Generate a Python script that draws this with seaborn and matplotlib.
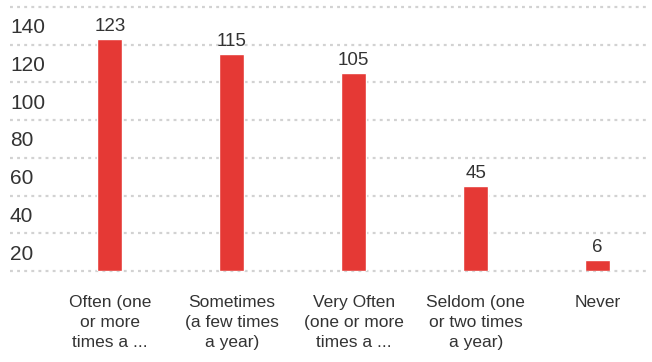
import numpy as np
import pandas as pd
import matplotlib
matplotlib.use("Agg")
import matplotlib.pyplot as plt
import seaborn as sns

categories = ["Often (one\nor more\ntimes a ...",
              "Sometimes\n(a few times\na year)",
              "Very Often\n(one or more\ntimes a ...",
              "Seldom (one\nor two times\na year)",
              "Never"]
values = [123, 115, 105, 45, 6]
ytick_values = [20, 40, 60, 80, 100, 120, 140]

sns.set_style("white")
plt.rcParams['font.family'] = ['Liberation Sans', 'DejaVu Sans']

text_color = "#333333"
bar_color = "#E53935"

fig = plt.figure(figsize=(6.52, 3.62), dpi=100)
ax = fig.add_axes([10 / 652, 91 / 362, 640 / 652, 264 / 362])

df = pd.DataFrame({"cat": categories, "val": values})
sns.barplot(data=df, x="cat", y="val", color=bar_color, width=0.205,
            saturation=1, ax=ax, zorder=3)

ax.set_xlim(-0.82, 4.43)
ax.set_ylim(0, 140)

# dotted gridlines at 0..140, labels sit halfway below each line
for v in [0] + ytick_values:
    ax.axhline(v, color="#d2d2d2", lw=1.6, linestyle=(0, (1.3, 1.9)),
               zorder=1, clip_on=False)
ax.set_yticks([v - 10 for v in ytick_values])
ax.set_yticklabels([str(v) for v in ytick_values])
ax.tick_params(axis="y", length=0, pad=0, labelsize=15, labelcolor=text_color)
for lab in ax.get_yticklabels():
    lab.set_horizontalalignment("left")

ax.tick_params(axis="x", length=0, pad=17, labelsize=12.5, labelcolor=text_color)
for lab in ax.get_xticklabels():
    lab.set_multialignment("center")
    lab.set_linespacing(1.45)

for i, v in enumerate(values):
    ax.annotate(str(v), (i, v), xytext=(0, 3), textcoords="offset points",
                ha="center", va="bottom", fontsize=13.5, color=text_color)

ax.set_xlabel("")
ax.set_ylabel("")
sns.despine(ax=ax, left=True, bottom=True)

fig.savefig("out.png", dpi=100)
